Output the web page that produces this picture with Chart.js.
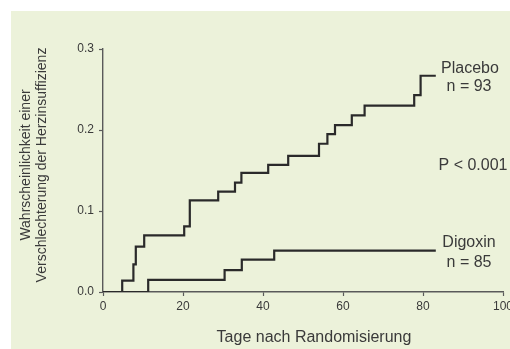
<!DOCTYPE html>
<html lang="de">
<head>
<meta charset="utf-8">
<title>Digoxin vs. Placebo</title>
<script src="https://cdn.jsdelivr.net/npm/chart.js@4.4.1/dist/chart.umd.min.js"></script>
<style>
  html, body { margin: 0; padding: 0; width: 510px; height: 349px; overflow: hidden; background: #fff; }
  .panel { position: absolute; left: 11px; top: 11px; right: 0; bottom: 0; background: #ecf2da; }
  #chart { position: absolute; left: 0; top: 0; }
</style>
</head>
<body>
<div class="panel"></div>
<canvas id="chart" width="530" height="349"></canvas>
<script>
'use strict';

/* ─────────────────────────────────────────────────────────
   DATA
───────────────────────────────────────────────────────── */
const placeboDays = [0, 4.8, 7.6, 8.2, 10.3, 20.3, 21.7, 28.8, 33.0, 34.6, 41.3, 46.3, 54.0, 56.1, 58.0, 62.2, 65.4, 77.8, 79.4, 83.2];
const placeboRisk = [0, 0.014, 0.034, 0.056, 0.070, 0.081, 0.113, 0.124, 0.135, 0.147, 0.157, 0.168, 0.183, 0.195, 0.206, 0.218, 0.230, 0.243, 0.267, 0.267];

const digoxinDays = [0, 11.3, 30.4, 34.7, 42.8, 83.2];
const digoxinRisk = [0, 0.015, 0.027, 0.040, 0.051, 0.051];

const xTicks = ['0', '20', '40', '60', '80', '100'];
const yTicks = ['0.0', '0.1', '0.2', '0.3'];

const xTitle = 'Tage nach Randomisierung';
const yTitle = ['Wahrscheinlichkeit einer', 'Verschlechterung der Herzinsuffizienz'];
const placeboNote = ['Placebo', 'n = 93'];
const digoxinNote = ['Digoxin', 'n = 85'];
const pNote = 'P < 0.001';

/* ─────────────────────────────────────────────────────────
   STYLE
───────────────────────────────────────────────────────── */
const FONT = '"Liberation Sans", Arial, Helvetica, sans-serif';
const INK  = '#2a2a2a';
const TEXT = '#3a3a3a';
const AXIS = '#5a5a5a';

const toPoints = (xs, ys) => xs.map((x, i) => ({ x, y: ys[i] }));

/* ─────────────────────────────────────────────────────────
   TEXT OVERLAY (axis titles + curve labels)
───────────────────────────────────────────────────────── */
const textOverlay = {
  id: 'textOverlay',
  afterDraw(chart) {
    const { ctx } = chart;
    ctx.save();
    ctx.fillStyle = TEXT;

    // y title, two rotated lines
    ctx.font = `14px ${FONT}`;
    ctx.textAlign = 'center';
    ctx.textBaseline = 'alphabetic';
    [30, 46].forEach((bx, i) => {
      ctx.save();
      ctx.translate(bx, 165);
      ctx.rotate(-Math.PI / 2);
      ctx.fillText(yTitle[i], 0, 0);
      ctx.restore();
    });

    // x title
    ctx.font = `16px ${FONT}`;
    ctx.fillText(xTitle, 314, 342);

    // curve labels
    ctx.fillText(placeboNote[0], 470, 73);
    ctx.fillText(placeboNote[1], 469, 91);
    ctx.fillText(pNote, 473, 170);
    ctx.fillText(digoxinNote[0], 469, 247);
    ctx.fillText(digoxinNote[1], 469, 267);

    ctx.restore();
  }
};

/* ─────────────────────────────────────────────────────────
   CHART
───────────────────────────────────────────────────────── */
const lineStyle = {
  stepped: 'before',
  borderColor: INK,
  borderWidth: 2.2,
  pointRadius: 0,
  fill: false,
};

new Chart(document.getElementById('chart'), {
  type: 'line',
  data: {
    datasets: [
      { label: 'Placebo', data: toPoints(placeboDays, placeboRisk), ...lineStyle },
      { label: 'Digoxin', data: toPoints(digoxinDays, digoxinRisk), ...lineStyle },
    ]
  },
  options: {
    responsive: false,
    animation: false,
    devicePixelRatio: 1,
    layout: { padding: { top: 49, right: 27, left: 0, bottom: 0 } },
    plugins: { legend: { display: false }, tooltip: { enabled: false } },
    scales: {
      x: {
        type: 'linear',
        min: 0, max: 100,
        afterFit(scale) { scale.height = 57; },
        afterBuildTicks(scale) { scale.ticks = xTicks.map(t => ({ value: Number(t) })); },
        ticks: {
          color: TEXT, padding: 3, maxRotation: 0, autoSkip: false,
          font: { family: FONT, size: 12 },
          callback: (v) => xTicks.find(t => Number(t) === v) ?? '',
        },
        grid: { drawOnChartArea: false, drawTicks: true, tickLength: 4, tickColor: AXIS, tickWidth: 1.2 },
        border: { display: true, color: AXIS, width: 1.4 },
      },
      y: {
        type: 'linear',
        min: 0, max: 0.3,
        afterFit(scale) { scale.width = 103; },
        afterBuildTicks(scale) { scale.ticks = yTicks.map(t => ({ value: Number(t) })); },
        ticks: {
          color: TEXT, padding: 5,
          font: { family: FONT, size: 12 },
          callback: (v) => yTicks.find(t => Number(t) === v) ?? '',
        },
        grid: { drawOnChartArea: false, drawTicks: true, tickLength: 4, tickColor: AXIS, tickWidth: 1.2 },
        border: { display: true, color: AXIS, width: 1.4 },
      }
    }
  },
  plugins: [textOverlay]
});
</script>
</body>
</html>
